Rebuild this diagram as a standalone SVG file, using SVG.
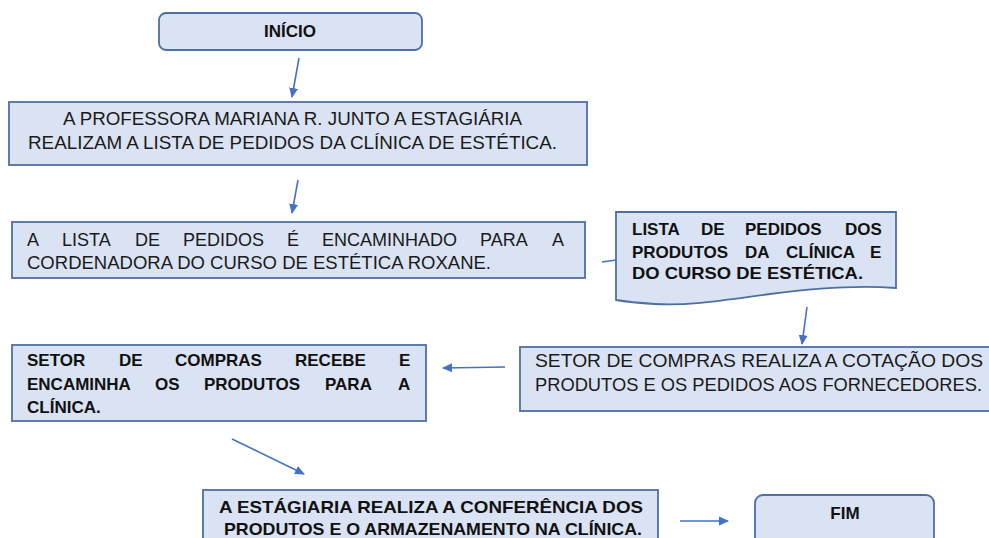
<svg xmlns="http://www.w3.org/2000/svg" width="989" height="538" viewBox="0 0 989 538">
<style>
.box{fill:#dae3f3;stroke:#4e6fa3;stroke-width:1.8}
.t{font-family:"Liberation Sans",Arial,sans-serif;font-size:18px;fill:#1a1a1a}
.b{font-family:"Liberation Sans",Arial,sans-serif;font-size:17px;font-weight:bold;fill:#111}
.c{text-anchor:middle}
.ln{stroke:#4472c4;stroke-width:1.6;fill:none}
</style>
<defs>
<marker id="ah" markerWidth="10" markerHeight="10" refX="9" refY="5" orient="auto" markerUnits="userSpaceOnUse">
<path d="M0,0.5 L10,5 L0,9.5 Z" fill="#4472c4"/>
</marker>
</defs>
<rect width="989" height="538" fill="#ffffff"/>
<g id="connectors">
<line class="ln" x1="299" y1="58" x2="292" y2="97" marker-end="url(#ah)"/>
<line class="ln" x1="298" y1="180" x2="292" y2="213" marker-end="url(#ah)"/>
<line class="ln" x1="602" y1="262" x2="616" y2="260"/>
<line class="ln" x1="807" y1="307" x2="802" y2="344" marker-end="url(#ah)"/>
<line class="ln" x1="505" y1="367" x2="443" y2="368" marker-end="url(#ah)"/>
<line class="ln" x1="232" y1="439" x2="304" y2="474" marker-end="url(#ah)"/>
<line class="ln" x1="680" y1="521" x2="728" y2="521" marker-end="url(#ah)"/>
</g>
<g id="inicio">
<rect class="box" x="159" y="13" width="263" height="37" rx="7"/>
<text class="b c" x="290" y="37" font-size="16.5">INÍCIO</text>
</g>
<g id="professora">
<rect class="box" x="9" y="102" width="578" height="63"/>
<text class="t" x="63" y="125" textLength="459" lengthAdjust="spacingAndGlyphs">A PROFESSORA MARIANA R. JUNTO A ESTAGIÁRIA</text>
<text class="t" x="28" y="149" textLength="529" lengthAdjust="spacingAndGlyphs">REALIZAM A LISTA DE PEDIDOS DA CLÍNICA DE ESTÉTICA.</text>
</g>
<g id="encaminhado">
<rect class="box" x="12" y="222" width="573" height="56"/>
<text class="t" y="246"><tspan x="27">A</tspan><tspan x="62">LISTA</tspan><tspan x="135">DE</tspan><tspan x="183">PEDIDOS</tspan><tspan x="287">É</tspan><tspan x="322">ENCAMINHADO</tspan><tspan x="480">PARA</tspan><tspan x="552">A</tspan></text>
<text class="t" x="27" y="269" textLength="464" lengthAdjust="spacingAndGlyphs">CORDENADORA DO CURSO DE ESTÉTICA ROXANE.</text>
</g>
<g id="lista">
<path class="box" d="M616,212 H896 V288 C860,285 815,288 770,294 C725,300 690,306 655,304 C640,303 628,302 616,300 Z"/>
<text class="b" y="235"><tspan x="632">LISTA</tspan><tspan x="701">DE</tspan><tspan x="745">PEDIDOS</tspan><tspan x="845">DOS</tspan></text>
<text class="b" y="258"><tspan x="632">PRODUTOS</tspan><tspan x="745">DA</tspan><tspan x="786">CLÍNICA</tspan><tspan x="870">E</tspan></text>
<text class="b" x="632" y="279" textLength="231" lengthAdjust="spacingAndGlyphs">DO CURSO DE ESTÉTICA.</text>
</g>
<g id="cotacao">
<rect class="box" x="520" y="347" width="480" height="64"/>
<text class="t" x="535" y="367" textLength="448" lengthAdjust="spacingAndGlyphs">SETOR DE COMPRAS REALIZA A COTAÇÃO DOS</text>
<text class="t" x="535" y="391" textLength="447" lengthAdjust="spacingAndGlyphs">PRODUTOS E OS PEDIDOS AOS FORNECEDORES.</text>
</g>
<g id="recebe">
<rect class="box" x="12" y="345" width="414" height="76"/>
<text class="b" y="366"><tspan x="27">SETOR</tspan><tspan x="119">DE</tspan><tspan x="175">COMPRAS</tspan><tspan x="295">RECEBE</tspan><tspan x="399">E</tspan></text>
<text class="b" y="390"><tspan x="27">ENCAMINHA</tspan><tspan x="155">OS</tspan><tspan x="204">PRODUTOS</tspan><tspan x="325">PARA</tspan><tspan x="398">A</tspan></text>
<text class="b" x="27" y="413">CLÍNICA.</text>
</g>
<g id="conferencia">
<rect class="box" x="203" y="490" width="455" height="60"/>
<text class="b" x="219" y="513" textLength="424" lengthAdjust="spacingAndGlyphs">A ESTÁGIARIA REALIZA A CONFERÊNCIA DOS</text>
<text class="b" x="224" y="535" textLength="418" lengthAdjust="spacingAndGlyphs">PRODUTOS E O ARMAZENAMENTO NA CLÍNICA.</text>
</g>
<g id="fim">
<rect class="box" x="755" y="495" width="179" height="55" rx="8"/>
<text class="b c" x="845" y="519" font-size="16.5">FIM</text>
</g>
</svg>
